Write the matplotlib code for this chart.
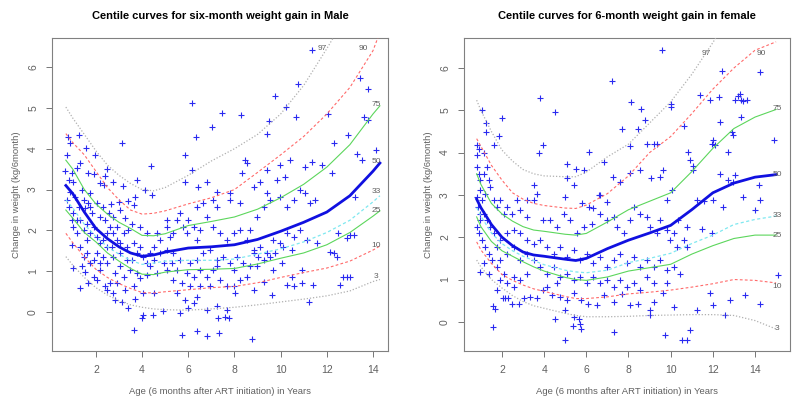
"""Centile curves for six-month weight gain, male and female panels."""

import matplotlib
matplotlib.use("Agg")
import matplotlib.pyplot as plt

plt.rcParams["font.family"] = ["Liberation Sans", "DejaVu Sans"]

# ---- male panel -------------------------------------------------------
male_age = [0.7, 1, 1.5, 2, 2.5, 3, 3.5, 4, 4.5, 5, 6, 7, 8, 9, 10, 11, 12, 13, 14, 14.3]
male_centiles = {
    "3":  [1.36, 1.15, 0.85, 0.6, 0.42, 0.28, 0.18, 0.12, 0.08, 0.06, 0.05, 0.08, 0.12, 0.18, 0.25, 0.32, 0.4, 0.52, 0.75, 0.8],
    "10": [1.93, 1.7, 1.35, 1.05, 0.85, 0.7, 0.58, 0.48, 0.47, 0.5, 0.55, 0.6, 0.63, 0.72, 0.85, 0.97, 1.08, 1.25, 1.52, 1.62],
    "25": [2.5, 2.3, 1.95, 1.72, 1.45, 1.25, 1.07, 0.93, 0.92, 0.98, 1.04, 1.05, 1.07, 1.18, 1.32, 1.45, 1.65, 1.95, 2.35, 2.48],
    "33": [2.75, 2.55, 2.15, 1.85, 1.6, 1.42, 1.27, 1.17, 1.2, 1.25, 1.27, 1.27, 1.3, 1.42, 1.55, 1.72, 1.95, 2.25, 2.7, 2.85],
    "50": [3.1, 2.9, 2.45, 2.05, 1.8, 1.6, 1.45, 1.37, 1.4, 1.47, 1.57, 1.6, 1.65, 1.78, 1.98, 2.2, 2.45, 2.85, 3.45, 3.65],
    "75": [3.72, 3.5, 3.0, 2.65, 2.4, 2.2, 2.05, 1.88, 1.87, 1.92, 2.12, 2.22, 2.33, 2.52, 2.8, 3.13, 3.55, 4.1, 4.85, 5.05],
    "90": [4.37, 4.15, 3.85, 3.45, 3.05, 2.75, 2.5, 2.4, 2.42, 2.48, 2.65, 2.8, 3.0, 3.42, 3.85, 4.3, 4.85, 5.5, 6.4, 6.85],
    "97": [5.02, 4.75, 4.35, 3.95, 3.6, 3.35, 3.15, 3.0, 2.97, 3.05, 3.35, 3.7, 4.0, 4.35, 4.85, 5.55, 6.45, 7.4, 8.4, 8.7],
}
male_label_xy = {"97": (11.8, 6.45), "90": (13.6, 6.45), "75": (14.15, 5.09), "50": (14.15, 3.68),
                 "33": (14.15, 2.95), "25": (14.15, 2.5), "10": (14.15, 1.62), "3": (14.15, 0.87)}

male_pts_x = [11.35, 10.77, 13.44, 13.77, 13.59, 13.8, 12.04, 10.24, 9.76, 9.5, 9.4, 10.66, 8.29, 7.45, 7.04, 6.17,
              6.33, 5.84, 6.17, 4.38, 3.13, 1.28, 0.79, 0.89, 0.75, 0.67, 1.57, 1.97, 2.48, 1.32, 1.93, 1.68, 2.38,
              2.76, 3.17, 3.77, 4.11, 4.42, 3.7, 3.39, 3.01, 2.65, 2.19, 2.36, 3.63, 3.05, 1.75, 1.39, 1.11, 0.89,
              1.03, 0.82, 0.96, 1.18, 1.68, 1.54, 1.83, 2.04, 2.33, 2.55, 2.76, 2.4, 2.19, 1.9, 1.61, 1.32, 1.03,
              0.82, 0.75, 0.96, 0.96, 1.0, 1.32, 1.47, 1.39, 1.54, 1.32, 1.64, 1.9, 1.75, 2.04, 2.19, 2.33, 2.48,
              2.69, 2.91, 3.2, 3.41, 3.56, 3.27, 2.91, 3.05, 3.34, 3.05, 2.84, 2.62, 2.4, 2.48, 2.84, 2.76, 3.13,
              3.27, 3.41, 3.7, 3.66, 3.99, 4.06, 4.47, 4.89, 4.5, 4.06, 3.63, 3.92, 4.21, 3.77, 4.35, 4.64, 4.93,
              5.36, 5.29, 5.65, 5.94, 5.36, 5.72, 6.08, 5.51, 5.87, 6.23, 6.01, 5.65, 6.37, 6.52, 6.81, 7.09, 7.38,
              7.67, 7.96, 8.03, 8.25, 8.54, 8.83, 7.67, 7.24, 6.81, 5.72, 6.37, 6.81, 7.35, 7.6, 7.76, 7.27, 8.75,
              9.62, 9.26, 9.69, 10.05, 10.27, 10.48, 10.6, 10.92, 10.92, 11.21, 11.39, 11.57, 12.14, 12.29, 12.43,
              12.58, 12.72, 13.01, 13.16, 4.78, 5.07, 5.07, 5.36, 5.51, 5.65, 5.79, 6.01, 5.94, 6.23, 6.37, 6.52,
              6.81, 7.09, 7.38, 7.67, 7.96, 8.25, 8.54, 8.83, 9.11, 9.4, 9.69, 9.98, 10.27, 10.56, 10.85, 11.13,
              8.68, 8.97, 9.26, 9.55, 9.98, 10.27, 10.56, 10.85, 11.06, 11.28, 11.49, 11.06, 11.35, 11.79, 12.22,
              12.29, 12.93, 13.3, 13.52, 14.12, 13.23, 12.48, 12.86, 13.01, 12.86, 5.84, 6.44, 6.81, 7.24, 7.81,
              8.32, 8.54, 8.46, 8.83, 9.11, 9.4, 9.4, 9.83, 9.98, 10.19, 10.41, 6.66, 6.37, 7.09, 7.81, 8.25, 7.24,
              3.92, 4.21, 4.5, 4.64, 4.78, 5.07, 5.22, 4.35, 4.06, 3.77, 3.63, 3.92, 4.21, 4.5, 5.07, 5.51, 6.08,
              6.37, 6.66, 6.95, 7.24, 7.52, 7.81, 8.1, 8.39, 6.52, 6.23, 6.95, 7.24, 7.96, 8.68, 8.83, 9.04, 8.97,
              9.26, 9.55, 9.76, 10.12, 10.48, 1.18, 1.47, 1.75, 2.04, 2.19, 2.48, 1.61, 1.18, 1.03, 1.25, 1.47,
              1.75, 2.62, 2.76, 3.05, 3.34, 2.76, 2.48, 2.19, 1.9, 1.61, 2.33, 2.04, 2.91, 3.2, 3.48, 3.56]
male_pts_y = [6.41, 5.59, 5.73, 5.45, 4.78, 4.71, 4.85, 5.02, 5.28, 4.68, 4.37, 4.78, 4.82, 4.88, 4.54, 5.13,
              4.29, 3.84, 3.48, 3.58, 4.13, 4.33, 4.29, 4.13, 3.84, 3.46, 4.02, 3.84, 3.5, 3.66, 3.38, 3.4, 3.34,
              3.19, 3.09, 3.23, 3.0, 2.87, 2.81, 2.73, 2.7, 2.65, 3.15, 3.11, 2.62, 2.5, 2.91, 2.99, 2.83, 2.95,
              3.19, 3.23, 3.4, 3.52, 2.66, 2.54, 2.42, 2.66, 2.58, 2.42, 2.34, 2.26, 2.34, 2.09, 2.17, 2.26, 2.42,
              2.58, 2.74, 2.26, 1.64, 1.07, 1.6, 1.36, 1.12, 0.99, 0.59, 0.71, 0.87, 1.2, 1.44, 1.2, 1.77, 1.93,
              1.6, 1.77, 1.93, 2.01, 2.17, 2.3, 2.09, 1.44, 1.28, 1.12, 0.95, 0.71, 0.63, 0.55, 0.3, 0.46, 0.26,
              0.55, 0.1, 0.32, -0.43, -0.15, -0.07, -0.07, 0.02, 0.46, 0.46, 0.63, 0.83, 0.91, 0.95, 1.12, 0.95, 1.2,
              1.44, 1.2, 1.28, 0.95, 0.79, 0.71, 0.63, 0.46, 0.3, 0.22, 0.1, -0.02, 0.38, 0.63, 0.87, 1.03, 0.79,
              0.63, 0.63, 0.46, 0.79, 0.87, 0.55, 0.06, 0.14, 0.06, -0.55, -0.47, -0.59, -0.51, -0.11, -0.15, -0.15,
              -0.66, 0.42, 0.75, 1.03, 1.2, 0.67, 0.87, 0.63, 1.03, 0.71, 0.26, 0.67, 1.69, 1.48, 1.44, 1.36, 0.67,
              0.87, 1.89, 1.89, 1.77, 2.09, 2.26, 1.93, 2.26, 2.42, 2.09, 2.26, 1.93, 2.09, 1.77, 2.01, 2.34, 2.09,
              1.93, 1.77, 1.93, 2.01, 1.77, 1.44, 1.6, 1.44, 1.77, 1.69, 1.93, 1.85, 2.01, 1.77, 2.01, 2.34, 2.58,
              2.74, 2.83, 2.58, 2.74, 2.99, 2.91, 2.66, 2.74, 3.56, 3.68, 3.6, 3.4, 4.13, 4.33, 3.88, 3.72, 3.98,
              2.83, 1.93, 1.81, 0.87, 0.87, 3.19, 3.07, 3.19, 2.95, 2.91, 3.4, 3.64, 3.72, 3.07, 3.19, 2.91, 3.48,
              3.23, 3.6, 3.31, 3.72, 2.66, 2.58, 2.74, 2.74, 2.66, 2.58, 2.09, 1.93, 1.6, 1.93, 1.44, 1.52, 1.85,
              1.44, 1.36, 1.44, 1.69, 1.6, 1.2, 1.28, 1.03, 1.03, 1.2, 1.28, 1.44, 1.52, 1.28, 1.36, 1.2, 1.36, 1.2,
              1.03, 0.87, 0.63, 1.12, 1.03, 1.12, 1.52, 1.36, 1.12, 1.28, 1.36, 1.44, 1.6, 1.52, 2.26, 2.01, 1.93,
              1.85, 1.69, 1.6, 1.77, 1.93, 2.09, 2.58, 2.74, 2.58, 2.09, 1.93, 1.69, 1.6, 1.36, 1.2, 1.03, 1.28,
              1.44, 1.36, 0.79, 0.71, 0.87, 1.03, 1.28]

# ---- female panel -----------------------------------------------------
female_age = [0.8, 1, 1.5, 2, 2.5, 3, 3.5, 4, 5, 5.5, 6, 7, 8, 9, 10, 11, 12, 13, 14, 15]
female_centiles = {
    "3":  [1.46, 1.3, 1.0, 0.8, 0.62, 0.48, 0.38, 0.32, 0.2, 0.15, 0.12, 0.12, 0.13, 0.15, 0.16, 0.17, 0.17, 0.15, 0.03, -0.17],
    "10": [1.89, 1.7, 1.38, 1.12, 0.98, 0.87, 0.78, 0.72, 0.6, 0.55, 0.55, 0.59, 0.66, 0.7, 0.75, 0.82, 0.9, 1.0, 0.98, 0.92],
    "25": [2.48, 2.25, 1.9, 1.68, 1.55, 1.42, 1.3, 1.2, 1.05, 1.0, 0.98, 1.06, 1.2, 1.28, 1.36, 1.6, 1.8, 1.97, 2.05, 2.05],
    "33": [2.7, 2.5, 2.1, 1.85, 1.68, 1.55, 1.45, 1.35, 1.22, 1.18, 1.16, 1.22, 1.4, 1.5, 1.62, 1.85, 2.05, 2.3, 2.42, 2.5],
    "50": [2.9, 2.7, 2.3, 2.0, 1.8, 1.65, 1.58, 1.55, 1.48, 1.45, 1.5, 1.73, 1.93, 2.1, 2.28, 2.65, 3.05, 3.28, 3.42, 3.48],
    "75": [3.5, 3.25, 2.8, 2.55, 2.38, 2.25, 2.17, 2.14, 2.07, 2.05, 2.09, 2.36, 2.65, 2.85, 3.05, 3.55, 4.1, 4.57, 4.84, 5.02],
    "90": [4.33, 4.15, 3.7, 3.35, 3.05, 2.9, 2.8, 2.75, 2.69, 2.68, 2.76, 3.03, 3.45, 4.0, 4.38, 4.92, 5.5, 6.0, 6.42, 6.62],
    "97": [5.24, 5.0, 4.5, 4.06, 3.8, 3.6, 3.5, 3.45, 3.43, 3.43, 3.54, 3.9, 4.2, 4.7, 5.2, 5.85, 6.6, 7.4, 8.1, 8.8],
}
female_label_xy = {"97": (11.7, 6.34), "90": (14.3, 6.34), "75": (15.05, 5.04), "50": (15.05, 3.49),
                   "33": (15.05, 2.52), "25": (15.05, 2.04), "10": (15.05, 0.84), "3": (15.05, -0.16)}

female_pts_x = [9.61, 14.24, 12.43, 7.24, 3.82, 4.53, 1.05, 2.0, 1.87, 1.26, 1.26, 0.82, 0.93, 0.82, 1.13, 1.6,
                3.74, 3.94, 6.11, 8.13, 8.59, 8.79, 8.43, 7.69, 8.08, 8.87, 9.36, 10.03, 10.03, 10.61, 11.4, 11.87,
                12.27, 12.35, 11.95, 12.11, 13.06, 13.18, 13.3, 13.34, 13.45, 13.6, 13.33, 12.9, 12.98, 14.88, 10.8,
                10.93, 11.08, 11.06, 12.03, 12.74, 12.35, 12.74, 13.06, 12.98, 13.45, 14.2, 14.24, 14.01, 12.5, 12.03,
                11.24, 11.48, 11.56, 11.95, 10.77, 10.37, 9.82, 10.06, 9.66, 9.19, 9.5, 9.06, 8.56, 8.08, 7.61, 7.26,
                6.85, 6.66, 6.58, 5.87, 5.51, 5.08, 5.08, 5.0, 5.4, 5.79, 6.34, 6.98, 15.08, 11.87, 12.03, 12.82,
                12.58, 13.53, 14.24, 11.24, 10.14, 10.53, 10.77, 10.93, 9.74, 9.82, 9.66, 9.19, 9.0, 9.0, 8.43, 8.08,
                7.67, 7.29, 6.85, 6.5, 6.06, 5.74, 5.4, 5.08, 4.73, 4.37, 3.97, 3.66, 3.34, 3.03, 2.79, 2.47, 2.16,
                2.05, 1.76, 1.57, 1.68, 1.56, 2.27, 4.5, 5.0, 4.97, 5.36, 5.4, 5.67, 5.71, 5.76, 7.32, 0.82, 0.9, 0.97,
                1.13, 1.29, 1.37, 0.97, 0.82, 1.05, 1.21, 1.45, 1.6, 1.76, 1.92, 2.08, 2.24, 2.47, 2.71, 2.87, 3.18,
                3.18, 3.5, 3.5, 3.66, 3.97, 4.29, 4.61, 4.92, 5.24, 5.55, 5.87, 6.11, 6.27, 6.66, 6.98, 7.29, 7.45,
                7.77, 8.08, 8.24, 8.56, 8.87, 9.03, 9.35, 9.5, 9.82, 10.14, 9.98, 10.29, 10.61, 10.77, 3.82, 4.13,
                4.45, 4.76, 5.08, 5.4, 5.71, 6.03, 6.34, 6.66, 6.98, 7.29, 7.61, 7.92, 8.24, 8.56, 8.87, 9.19, 9.5,
                9.82, 10.14, 10.45, 3.5, 3.82, 4.13, 4.45, 4.76, 5.08, 5.4, 5.71, 6.03, 6.34, 6.66, 6.98, 7.29, 7.61,
                7.92, 8.24, 8.56, 8.87, 9.19, 4.13, 4.61, 3.18, 2.87, 2.55, 2.87, 3.18, 3.5, 3.18, 2.87, 2.55, 2.24,
                1.92, 1.76, 1.6, 1.45, 1.29, 1.13, 0.97, 0.82, 0.9, 1.05, 1.21, 1.37, 1.53, 1.76, 1.92, 2.24, 2.55,
                2.08, 1.92, 2.24, 2.55, 0.97, 1.37, 1.13, 0.85, 0.94]
female_pts_y = [6.42, 5.91, 5.92, 5.69, 5.28, 4.96, 5.0, 4.83, 4.39, 4.69, 4.49, 4.17, 4.09, 3.94, 3.98, 4.17,
                3.99, 4.17, 4.02, 5.2, 5.04, 4.76, 4.57, 4.57, 4.16, 4.21, 4.21, 5.16, 5.08, 4.63, 5.37, 5.25, 5.31,
                4.72, 4.21, 4.17, 5.24, 5.35, 5.39, 5.25, 5.22, 5.24, 4.84, 4.49, 4.41, 4.31, 4.02, 3.82, 3.68, 3.58,
                4.29, 4.02, 3.5, 3.35, 3.46, 3.31, 2.95, 3.23, 2.87, 2.64, 2.72, 2.87, 2.87, 2.2, 2.85, 2.09, 2.24,
                2.4, 2.87, 3.11, 3.58, 4.21, 3.43, 3.39, 3.58, 3.52, 3.31, 3.43, 3.78, 2.99, 3.0, 3.58, 3.62, 3.74,
                3.4, 2.95, 3.23, 2.8, 2.68, 2.83, 1.1, 0.67, 0.39, 0.51, 0.17, 0.63, 0.43, 0.28, 0.35, -0.42, -0.43,
                -0.2, -0.31, 0.91, 0.67, 0.47, 0.28, 0.16, 0.43, 0.39, 0.65, 0.47, 0.63, 0.39, 0.43, 0.51, 0.67, 0.51,
                0.59, 0.63, 0.75, 0.57, 0.59, 0.57, 0.43, 0.43, 0.57, 0.57, 0.75, 0.37, 0.31, -0.13, 0.57, 0.06, 0.28,
                -0.42, -0.1, 0.12, 0.06, -0.04, -0.16, -0.24, 3.66, 3.5, 3.35, 3.5, 3.66, 3.35, 3.11, 2.95, 2.87, 3.03,
                3.19, 2.87, 2.72, 2.87, 2.56, 2.72, 2.56, 2.87, 2.64, 2.87, 2.48, 3.23, 2.87, 3.03, 2.4, 2.4, 2.24,
                2.56, 2.4, 2.09, 2.24, 2.72, 2.32, 2.56, 2.4, 2.48, 2.24, 2.09, 2.4, 2.72, 2.56, 2.48, 2.24, 2.09, 2.4,
                2.17, 2.09, 1.93, 1.77, 1.93, 1.77, 1.93, 1.77, 1.61, 1.77, 1.54, 1.69, 1.46, 1.61, 1.38, 1.54, 1.3,
                1.46, 1.61, 1.38, 1.54, 1.3, 1.46, 1.3, 1.46, 1.22, 1.3, 1.14, 1.46, 1.3, 1.14, 1.3, 1.06, 1.14, 0.98,
                1.06, 0.91, 1.06, 0.91, 0.98, 0.83, 0.98, 0.83, 0.91, 0.75, 1.06, 0.91, 0.83, 0.91, 1.14, 0.98, 1.06,
                1.46, 1.61, 1.85, 1.93, 2.09, 2.17, 2.09, 1.93, 1.77, 2.09, 2.24, 2.4, 2.56, 2.4, 2.24, 2.09, 1.93,
                1.77, 1.61, 1.46, 1.3, 1.46, 1.61, 1.77, 1.14, 0.98, 0.91, 0.83, 1.18, 1.14, 1.38, 2.72, 2.56]

# ---- styling per centile ---------------------------------------------
STYLE = {
    "3":  dict(color="#b0b0b0", ls=(0, (1, 1.5)), lw=0.9),
    "97": dict(color="#b0b0b0", ls=(0, (1, 1.5)), lw=0.9),
    "10": dict(color="#ff6a6a", ls=(0, (2.5, 2)), lw=0.8),
    "90": dict(color="#ff6a6a", ls=(0, (2.5, 2)), lw=0.8),
    "25": dict(color="#5cd65c", ls="-", lw=0.8),
    "75": dict(color="#5cd65c", ls="-", lw=0.8),
    "33": dict(color="#7fe8f0", ls=(0, (2.5, 2)), lw=0.9),
    "50": dict(color="#1010e0", ls="-", lw=2.0),
}
GREY = "#606060"


def draw_panel(ax, title, age, centiles, labels_xy, px, py, xlim, ylim, xticks):
    ax.scatter(px, py, marker="+", s=22, color="#2a2af0", linewidths=0.8, zorder=2)
    for key in ["3", "97", "10", "90", "25", "75", "33", "50"]:
        ax.plot(age, centiles[key], zorder=3, **STYLE[key])
    for key, (tx, ty) in labels_xy.items():
        ax.text(tx, ty, key, fontsize=6, color=GREY, ha="center", va="center", zorder=4)

    ax.set_xlim(*xlim)
    ax.set_ylim(*ylim)
    ax.set_xticks(xticks)
    ax.set_yticks(range(0, 7))
    ax.tick_params(colors=GREY, labelsize=7.5, length=4, width=0.6, pad=6)
    for lab in ax.get_yticklabels():
        lab.set_rotation(90)
        lab.set_va("center")
    for sp in ax.spines.values():
        sp.set_color("#808080")
        sp.set_linewidth(0.8)
    ax.set_title(title, fontsize=8, fontweight="bold", pad=14)
    ax.set_xlabel("Age (6 months after ART initiation) in Years", fontsize=6.8, color=GREY, labelpad=9)
    ax.set_ylabel("Change in weight (kg/6month)", fontsize=6.8, color=GREY, labelpad=5)


fig = plt.figure(figsize=(8, 4.09), dpi=100)
ax1 = fig.add_axes([0.065, 0.1418, 0.42, 0.7653])
ax2 = fig.add_axes([0.58, 0.1418, 0.4075, 0.7653])

draw_panel(ax1, "Centile curves for six-month weight gain in Male", male_age, male_centiles,
           male_label_xy, male_pts_x, male_pts_y, (0.1, 14.65), (-0.95, 6.71), range(2, 15, 2))
draw_panel(ax2, "Centile curves for 6-month weight gain in female", female_age, female_centiles,
           female_label_xy, female_pts_x, female_pts_y, (0.2, 15.66), (-0.69, 6.71), range(2, 15, 2))

fig.savefig("out.png", dpi=100)
